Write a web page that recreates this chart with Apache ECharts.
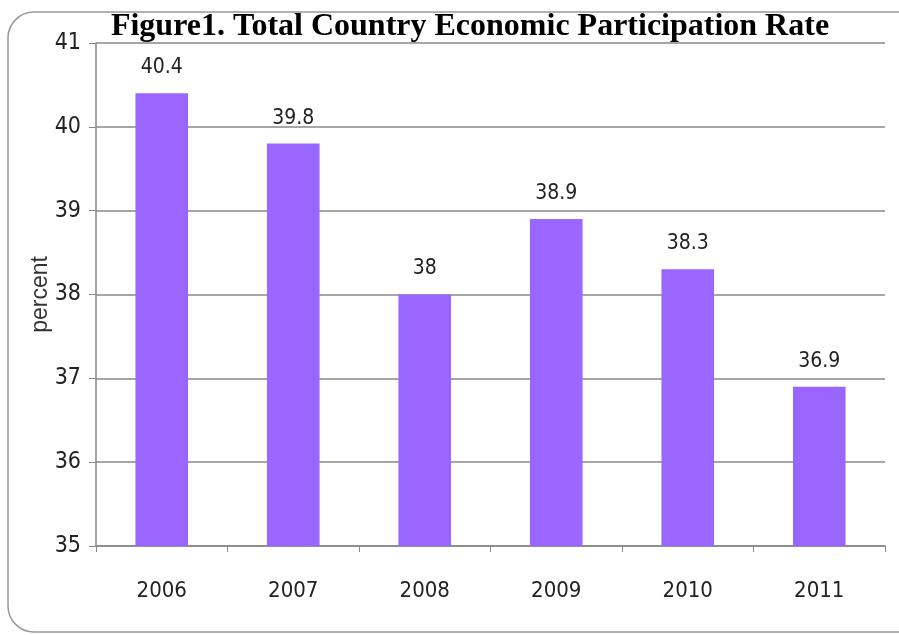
<!DOCTYPE html>
<html><head><meta charset="utf-8">
<script src="https://cdn.jsdelivr.net/npm/echarts@6/dist/echarts.min.js"></script>
<style>html,body{margin:0;padding:0;background:#fff}#c{width:899px;height:635px}</style>
</head><body><div id="c"></div>
<script>
const categories = ['2006','2007','2008','2009','2010','2011'];
const values = [40.4, 39.8, 38, 38.9, 38.3, 36.9];
const yTicks = [35, 36, 37, 38, 39, 40, 41];

const narrow = "'DejaVu Sans Condensed', 'Liberation Sans', sans-serif";
const chart = echarts.init(document.getElementById('c'));
chart.setOption({
  backgroundColor: '#fff',
  animation: false,
  graphic: [{
    type: 'rect', z: -1,
    shape: { x: 8, y: 12, width: 930, height: 620, r: 26 },
    style: { fill: '#fff', stroke: '#999', lineWidth: 1.5 }
  }],
  title: {
    text: 'Figure1. Total Country Economic Participation Rate',
    left: 465, top: 6, textAlign: 'center',
    textStyle: { fontFamily: 'Liberation Serif', fontWeight: 'bold', fontSize: 32, color: '#000' }
  },
  grid: { left: 96, right: 14, top: 43, bottom: 89 },
  xAxis: {
    type: 'category', data: categories,
    axisLine: { lineStyle: { color: '#888', width: 1.5 } },
    axisTick: { show: true, length: 6, lineStyle: { color: '#888' } },
    axisLabel: { fontFamily: narrow, fontSize: 22, color: '#222', margin: 34 }
  },
  yAxis: {
    type: 'value', min: yTicks[0], max: yTicks[yTicks.length-1], interval: 1,
    name: 'percent', nameLocation: 'middle', nameGap: 44, nameMoveOverlap: false,
    nameTextStyle: { fontFamily: 'Liberation Sans', fontSize: 23, color: '#333' },
    axisLine: { show: true, lineStyle: { color: '#888', width: 1.5 } },
    axisTick: { show: true, length: 7, lineStyle: { color: '#888' } },
    splitLine: { lineStyle: { color: '#888', width: 1.5 } },
    axisLabel: { fontFamily: narrow, fontSize: 23, color: '#222', margin: 15 }
  },
  series: [{
    type: 'bar', data: values, barWidth: '40%',
    itemStyle: { color: '#9966FF' },
    label: { show: true, position: 'top', distance: 15,
      fontFamily: narrow, fontSize: 21, color: '#222' }
  }]
});
</script></body></html>
